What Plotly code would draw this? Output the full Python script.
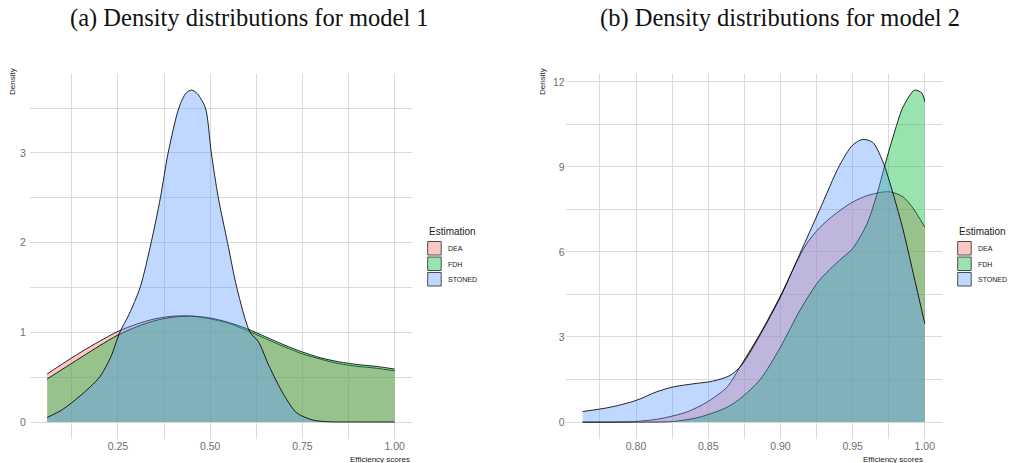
import plotly.graph_objects as go

# ---------------- data ----------------
series_names = ["DEA", "FDH", "STONED"]
fill_colors = ["rgba(248,118,109,0.4)", "rgba(0,186,56,0.4)", "rgba(97,156,255,0.4)"]
key_colors = ["#FCC8C5", "#99E3AF", "#C0D7FF"]

# Panel (a): model 1
a_x = [0.058, 0.10, 0.15, 0.20, 0.25, 0.30, 0.35, 0.40, 0.45, 0.50,
       0.55, 0.60, 0.65, 0.70, 0.75, 0.80, 0.85, 0.90, 0.95, 1.00]
a_dea = [0.535, 0.65, 0.78, 0.90, 1.01, 1.09, 1.15, 1.18, 1.18, 1.15,
         1.10, 1.02, 0.93, 0.84, 0.76, 0.70, 0.65, 0.62, 0.60, 0.57]
a_fdh = [0.48, 0.59, 0.72, 0.85, 0.97, 1.06, 1.13, 1.17, 1.18, 1.16,
         1.11, 1.04, 0.95, 0.86, 0.78, 0.715, 0.67, 0.64, 0.62, 0.59]
a_stoned_x = [0.058, 0.10, 0.15, 0.20, 0.23, 0.255, 0.28, 0.31, 0.34, 0.365,
              0.386, 0.415, 0.435, 0.45, 0.465, 0.487, 0.503, 0.522, 0.547, 0.572,
              0.608, 0.63, 0.66, 0.70, 0.735, 0.78, 0.82, 0.90, 1.00]
a_stoned = [0.05, 0.14, 0.30, 0.50, 0.72, 1.00, 1.20, 1.50, 2.00, 2.50,
            3.00, 3.50, 3.67, 3.70, 3.66, 3.50, 3.00, 2.50, 2.00, 1.50,
            1.00, 0.90, 0.62, 0.30, 0.10, 0.02, 0.003, 0.0, 0.0]

# Panel (b): model 2
b_dea_x = [0.763, 0.785, 0.800, 0.816, 0.835, 0.849, 0.863, 0.873, 0.886, 0.900,
           0.911, 0.918, 0.927, 0.937, 0.948, 0.958, 0.969, 0.976, 0.985, 0.992, 1.0]
b_dea = [0.0, 0.0, 0.02, 0.11, 0.35, 0.70, 1.23, 2.03, 3.12, 4.45,
         5.62, 6.28, 6.85, 7.30, 7.70, 7.95, 8.10, 8.12, 7.94, 7.53, 6.88]
b_fdh_x = [0.763, 0.81, 0.826, 0.844, 0.863, 0.872, 0.886, 0.900, 0.9135, 0.927,
           0.941, 0.950, 0.960, 0.967, 0.972, 0.978, 0.985, 0.993, 0.998, 1.0]
b_fdh = [0.0, 0.0, 0.02, 0.17, 0.52, 0.82, 1.50, 2.64, 3.94, 5.00,
         5.71, 6.12, 7.00, 8.06, 9.00, 10.06, 11.12, 11.71, 11.60, 11.30]
b_stoned_x = [0.763, 0.782, 0.800, 0.814, 0.826, 0.840, 0.853, 0.865, 0.873, 0.886,
              0.900, 0.9135, 0.927, 0.941, 0.950, 0.957, 0.964, 0.971, 0.978, 0.985,
              0.992, 1.0]
b_stoned = [0.37, 0.52, 0.76, 1.06, 1.24, 1.35, 1.44, 1.64, 2.00, 3.08,
            4.41, 5.94, 7.47, 9.06, 9.77, 9.97, 9.86, 9.18, 8.06, 6.77,
            5.24, 3.47]

a_xticks = [0.25, 0.50, 0.75, 1.00]
a_xticklabels = ["0.25", "0.50", "0.75", "1.00"]
a_yticks = [0, 1, 2, 3]
b_xticks = [0.80, 0.85, 0.90, 0.95, 1.00]
b_xticklabels = ["0.80", "0.85", "0.90", "0.95", "1.00"]
b_yticks = [0, 3, 6, 9, 12]

titles = ["(a) Density distributions for model 1", "(b) Density distributions for model 2"]
x_title = "Efficiency scores"
y_title = "Density"
legend_title = "Estimation"

# ---------------- figure ----------------
W, H = 1012, 463
def px(x):
    return x / W
def py(y):
    return 1 - y / H

fig = go.Figure()

panel_a = [(a_x, a_dea), (a_x, a_fdh), (a_stoned_x, a_stoned)]
panel_b = [(b_dea_x, b_dea), (b_fdh_x, b_fdh), (b_stoned_x, b_stoned)]

line_style = dict(color="rgba(0,0,0,0.85)", width=1, shape="spline", smoothing=0.8)
for (xs, ys), name, fc in zip(panel_a, series_names, fill_colors):
    fig.add_trace(go.Scatter(x=xs, y=ys, name=name, mode="lines", fill="tozeroy",
                             fillcolor=fc, line=line_style, xaxis="x", yaxis="y", showlegend=False))
for (xs, ys), name, fc in zip(panel_b, series_names, fill_colors):
    fig.add_trace(go.Scatter(x=xs, y=ys, name=name, mode="lines", fill="tozeroy",
                             fillcolor=fc, line=line_style, xaxis="x2", yaxis="y2", showlegend=False))

grid = "#DADADA"
tickfont = dict(family="Liberation Sans, Arial, sans-serif", size=10.5, color="#6E6E6E")
common = dict(showline=False, zeroline=False, ticks="", showgrid=True, gridcolor=grid, gridwidth=1,
              tickfont=tickfont, fixedrange=True, automargin=False)

ydom = [py(438.6), py(73.5)]
fig.update_layout(
    width=W, height=H, margin=dict(l=0, r=0, t=0, b=0, pad=0),
    paper_bgcolor="white", plot_bgcolor="white",
    xaxis=dict(domain=[px(29.8), px(412)], range=[0.011, 1.047], tickvals=a_xticks, ticktext=a_xticklabels,
               minor=dict(showgrid=True, gridcolor=grid, tick0=0.125, dtick=0.25), anchor="y", **common),
    yaxis=dict(domain=ydom, range=[-0.185, 3.885], tickvals=a_yticks, ticklabelstandoff=3,
               minor=dict(showgrid=True, gridcolor=grid, tick0=0.5, dtick=1), anchor="x", **common),
    xaxis2=dict(domain=[px(565.6), px(942)], range=[0.7512, 1.0119], tickvals=b_xticks, ticktext=b_xticklabels,
                minor=dict(showgrid=True, gridcolor=grid, tick0=0.775, dtick=0.05), anchor="y2", **common),
    yaxis2=dict(domain=ydom, range=[-0.5855, 12.2955], tickvals=b_yticks, ticklabelstandoff=0,
                minor=dict(showgrid=True, gridcolor=grid, tick0=1.5, dtick=3), anchor="x2", **common),
    showlegend=False,
)

annotations = []
shapes = []
# titles
for t, cx in zip(titles, [249, 780]):
    annotations.append(dict(text=t, x=px(cx), y=py(18), xref="paper", yref="paper", showarrow=False,
                            xanchor="center", yanchor="middle",
                            font=dict(family="Liberation Serif, Times New Roman, serif", size=24.5, color="#111")))
# axis titles
small = dict(family="Liberation Sans, Arial, sans-serif", size=8, color="#1A1A1A")
for rx in [412, 925]:
    annotations.append(dict(text=x_title, x=px(rx), y=py(459), xref="paper", yref="paper", showarrow=False,
                            xanchor="right", yanchor="middle", font=small))
for cx in [13, 543]:
    annotations.append(dict(text=y_title, x=px(cx), y=py(82), xref="paper", yref="paper", showarrow=False,
                            textangle=-90, xanchor="center", yanchor="middle", font=small))
# legends
for kx in [427.7, 957.7]:
    annotations.append(dict(text=legend_title, x=px(kx - 1), y=py(231.7), xref="paper", yref="paper", showarrow=False,
                            xanchor="left", yanchor="middle",
                            font=dict(family="Liberation Sans, Arial, sans-serif", size=10, color="#1A1A1A")))
    for i, (name, kc) in enumerate(zip(series_names, key_colors)):
        top = 241.5 + i * 15.5
        shapes.append(dict(type="rect", xref="paper", yref="paper", x0=px(kx), x1=px(kx + 13.5),
                           y0=py(top + 13.5), y1=py(top), fillcolor=kc,
                           line=dict(color="rgba(60,60,60,0.9)", width=1)))
        annotations.append(dict(text=name, x=px(kx + 18), y=py(top + 7), xref="paper", yref="paper",
                                showarrow=False, xanchor="left", yanchor="middle",
                                font=dict(family="Liberation Sans, Arial, sans-serif", size=7, color="#1A1A1A")))

fig.update_layout(annotations=annotations, shapes=shapes)
# remove the default 8px page margin so the figure fills the window exactly
fig.write_html("out.html", config={"displayModeBar": False},
               post_script="document.body.style.margin='0px';document.body.style.overflow='hidden';")
